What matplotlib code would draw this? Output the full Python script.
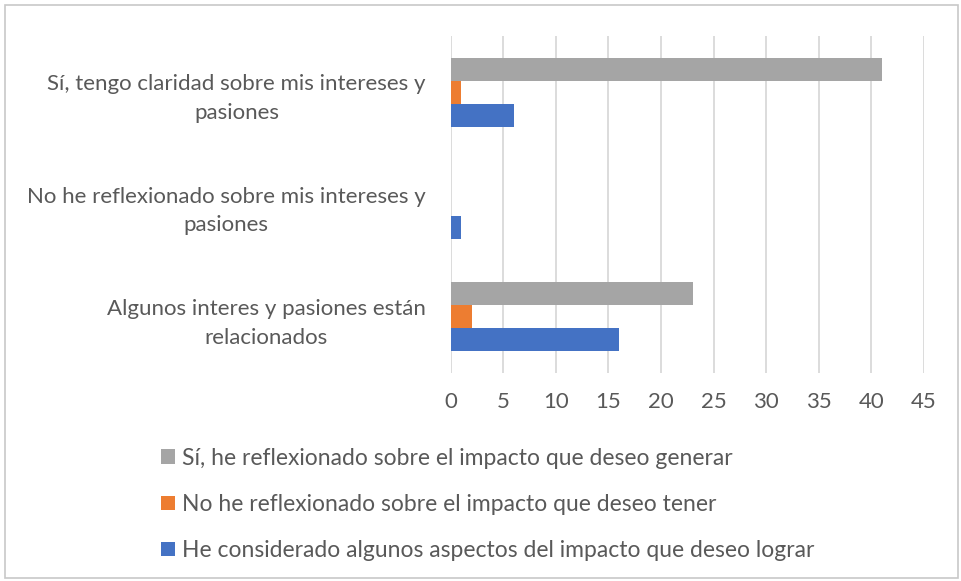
import numpy as np
import matplotlib.pyplot as plt
from matplotlib.patches import Rectangle

categorias = [
    "Sí, tengo claridad sobre mis intereses y\npasiones",
    "No he reflexionado sobre mis intereses y\npasiones",
    "Algunos interes y pasiones están\nrelacionados",
]
series = [
    "Sí, he reflexionado sobre el impacto que deseo generar",
    "No he reflexionado sobre el impacto que deseo tener",
    "He considerado algunos aspectos del impacto que deseo lograr",
]
val_generar = [41, 0, 23]
val_tener = [1, 0, 2]
val_lograr = [6, 1, 16]
colores = ["#A5A5A5", "#ED7D31", "#4472C4"]
ticks_x = [0, 5, 10, 15, 20, 25, 30, 35, 40, 45]

plt.rcParams['font.family'] = ['Lato', 'DejaVu Sans']
texto = "#595959"

fig = plt.figure(figsize=(9.61, 5.81), dpi=100)
ax = fig.add_axes([0.469, 0.358, 0.4925, 0.58])

y = np.arange(len(categorias))
h = 0.205
for i, (vals, col) in enumerate(zip([val_generar, val_tener, val_lograr], colores)):
    ax.barh(y + (i - 1) * h, vals, height=h, color=col, label=series[i],
            zorder=3)

ax.set_ylim(len(categorias) - 0.5, -0.5)
ax.set_xlim(0, 45)
ax.set_xticks(ticks_x)
ax.set_yticks(y)
ax.set_yticklabels(categorias, multialignment='center', linespacing=1.55)
ax.tick_params(axis='both', length=0, labelsize=16, colors=texto)
ax.tick_params(axis='y', pad=18)
ax.tick_params(axis='x', pad=14)
ax.grid(axis='x', color='#D9D9D9', linewidth=1.3, zorder=0)
for s in ax.spines.values():
    s.set_visible(False)

fig.legend(loc='upper left', bbox_to_anchor=(0.158, 0.245), ncol=1,
           frameon=False, fontsize=16.5, labelcolor=texto,
           handlelength=0.6, handleheight=0.6, handletextpad=0.3,
           labelspacing=1.1, borderaxespad=0)

fig.patches.append(Rectangle((5 / 961, 3 / 581), 953 / 961, 573 / 581,
                             transform=fig.transFigure, fill=False,
                             edgecolor='#C8C8C8', linewidth=1.2))

fig.savefig("out.png", dpi=100)
